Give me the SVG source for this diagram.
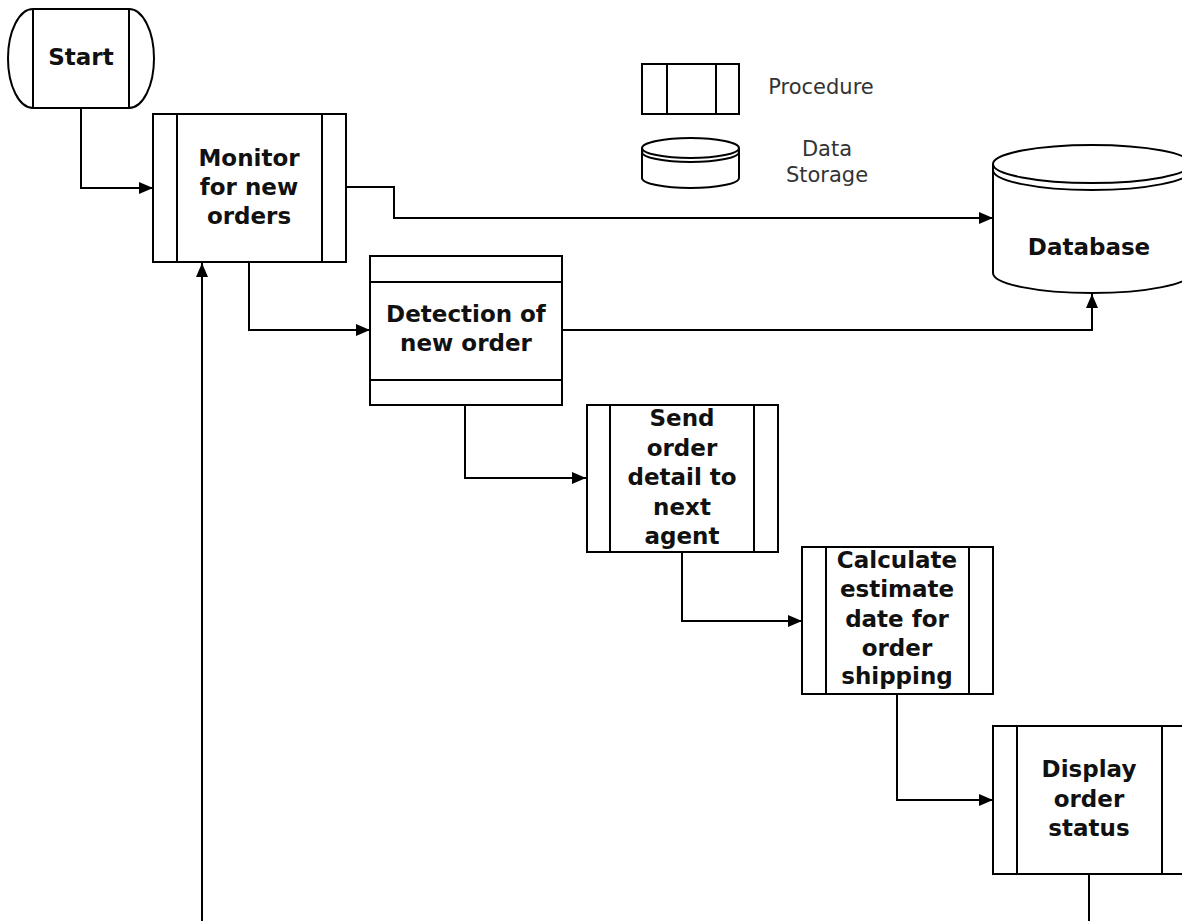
<svg xmlns="http://www.w3.org/2000/svg" width="1182" height="921" viewBox="0 0 1182 921">
  <style>
    .shape { fill: #ffffff; stroke: #000000; stroke-width: 2; }
    .line { fill: none; stroke: #000000; stroke-width: 2; }
    .edge { fill: none; stroke: #000000; stroke-width: 2; marker-end: url(#arrow); }
    .label { font-family: "DejaVu Sans", Verdana, sans-serif; font-weight: bold; font-size: 23px; fill: #111111; text-anchor: middle; }
    .legend { font-family: "DejaVu Sans", Verdana, sans-serif; font-size: 21px; fill: #333333; text-anchor: middle; }
  </style>
  <defs>
    <marker id="arrow" viewBox="0 0 14 12" refX="14" refY="6" markerWidth="14" markerHeight="12" markerUnits="userSpaceOnUse" orient="auto">
      <path d="M0,0 L14,6 L0,12 Z" fill="#000000"/>
    </marker>
  </defs>
  <rect width="1182" height="921" fill="#ffffff"/>

  <!-- legend -->
  <g id="legend">
    <rect class="shape" x="642" y="64" width="97" height="50"/>
    <line class="line" x1="667" y1="64" x2="667" y2="114"/>
    <line class="line" x1="716" y1="64" x2="716" y2="114"/>
    <text class="legend" x="821" y="94">Procedure</text>
    <path class="shape" d="M642,148 L642,178 A48.5,10 0 0 0 739,178 L739,148"/>
    <ellipse class="shape" cx="690.5" cy="148" rx="48.5" ry="10"/>
    <path class="line" d="M642,152 A48.5,10 0 0 0 739,152"/>
    <text class="legend" x="827" y="156">Data</text>
    <text class="legend" x="827" y="182">Storage</text>
  </g>

  <!-- connectors -->
  <g id="connectors">
    <path class="edge" d="M81,108 L81,188 L153,188"/>
    <path class="edge" d="M346,187 L394,187 L394,218 L993,218"/>
    <path class="edge" d="M249,262 L249,330 L370,330"/>
    <path class="edge" d="M562,330 L1092,330 L1092,294"/>
    <path class="edge" d="M465,405 L465,478 L586,478"/>
    <path class="edge" d="M682,552 L682,621 L802,621"/>
    <path class="edge" d="M897,694 L897,800 L993,800"/>
    <path class="line" d="M1089,874 L1089,921"/>
    <path class="edge" d="M202,921 L202,263"/>
  </g>

  <g id="start">
    <path class="shape" d="M33,108 A25,49.5 0 0 1 33,9 L129,9 A25,49.5 0 0 1 129,108 Z"/>
    <line class="line" x1="33" y1="9" x2="33" y2="108"/>
    <line class="line" x1="129" y1="9" x2="129" y2="108"/>
    <text class="label" x="81" y="65">Start</text>
  </g>

  <g id="monitor">
    <rect class="shape" x="153" y="114" width="193" height="148"/>
    <line class="line" x1="177" y1="114" x2="177" y2="262"/>
    <line class="line" x1="322" y1="114" x2="322" y2="262"/>
    <text class="label" x="249" y="166">Monitor</text>
    <text class="label" x="249" y="195">for new</text>
    <text class="label" x="249" y="224">orders</text>
  </g>

  <g id="database">
    <path class="shape" d="M993,164 L993,273 A99,20 0 0 0 1191,273 L1191,164"/>
    <ellipse class="shape" cx="1092" cy="164" rx="99" ry="19"/>
    <path class="line" d="M993,170 A99,20 0 0 0 1191,170"/>
    <text class="label" x="1089" y="255">Database</text>
  </g>

  <g id="detection">
    <rect class="shape" x="370" y="256" width="192" height="149"/>
    <line class="line" x1="370" y1="282" x2="562" y2="282"/>
    <line class="line" x1="370" y1="380" x2="562" y2="380"/>
    <text class="label" x="466" y="322">Detection of</text>
    <text class="label" x="466" y="351">new order</text>
  </g>

  <g id="send">
    <rect class="shape" x="587" y="405" width="191" height="147"/>
    <line class="line" x1="610" y1="405" x2="610" y2="552"/>
    <line class="line" x1="754" y1="405" x2="754" y2="552"/>
    <text class="label" x="682" y="426">Send</text>
    <text class="label" x="682" y="456">order</text>
    <text class="label" x="682" y="485">detail to</text>
    <text class="label" x="682" y="515">next</text>
    <text class="label" x="682" y="544">agent</text>
  </g>

  <g id="calculate">
    <rect class="shape" x="802" y="547" width="191" height="147"/>
    <line class="line" x1="826" y1="547" x2="826" y2="694"/>
    <line class="line" x1="969" y1="547" x2="969" y2="694"/>
    <text class="label" x="897" y="568">Calculate</text>
    <text class="label" x="897" y="597">estimate</text>
    <text class="label" x="897" y="627">date for</text>
    <text class="label" x="897" y="656">order</text>
    <text class="label" x="897" y="684">shipping</text>
  </g>

  <g id="display">
    <rect class="shape" x="993" y="726" width="193" height="148"/>
    <line class="line" x1="1017" y1="726" x2="1017" y2="874"/>
    <line class="line" x1="1162" y1="726" x2="1162" y2="874"/>
    <text class="label" x="1089" y="777">Display</text>
    <text class="label" x="1089" y="807">order</text>
    <text class="label" x="1089" y="836">status</text>
  </g>
</svg>
